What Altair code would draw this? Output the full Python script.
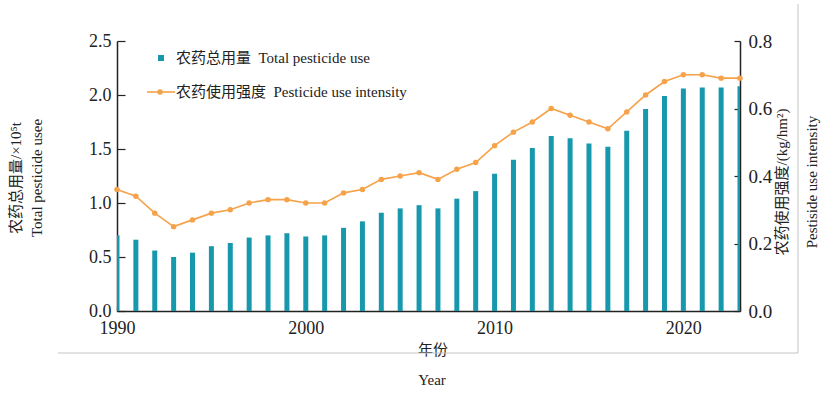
import altair as alt
import pandas as pd

# Pesticide use in China, 1990-2023
years = list(range(1990, 2024))
total_use = [0.70, 0.66, 0.56, 0.50, 0.54, 0.60, 0.63, 0.68, 0.70, 0.72,
             0.69, 0.70, 0.77, 0.83, 0.91, 0.95, 0.98, 0.95, 1.04, 1.11,
             1.27, 1.40, 1.51, 1.62, 1.60, 1.55, 1.52, 1.67, 1.87, 1.99,
             2.06, 2.07, 2.07, 2.08]  # x10^5 t
intensity = [0.36, 0.34, 0.29, 0.25, 0.27, 0.29, 0.30, 0.32, 0.33, 0.33,
             0.32, 0.32, 0.35, 0.36, 0.39, 0.40, 0.41, 0.39, 0.42, 0.44,
             0.49, 0.53, 0.56, 0.60, 0.58, 0.56, 0.54, 0.59, 0.64, 0.68,
             0.70, 0.70, 0.69, 0.69]  # kg/hm2

left_ticks = [0.0, 0.5, 1.0, 1.5, 2.0, 2.5]
right_ticks = [0.0, 0.2, 0.4, 0.6, 0.8]

BAR = "#1898ad"
ORANGE = "#f6a24a"
FRAME = "#c4c4c4"
SERIF = "Liberation Serif, 'Noto Sans CJK SC'"
GAP = "\u00a0\u00a0"

df = pd.DataFrame({"year": years, "total": total_use, "intensity": intensity})


def year_axis():
    return alt.X(
        "year:Q",
        scale=alt.Scale(domain=[1990, 2023], nice=False, zero=False, padding=0),
        axis=alt.Axis(
            values=years, format="d", title=None,
            labelExpr="datum.value % 10 === 0 ? datum.label : ''",
            labelOverlap=False, labelFlush=False,
            tickSize=alt.ExprRef("-5"), labelPadding=13,
            domainColor="#222", domainWidth=1.5, tickColor="#222", tickWidth=1.2,
            labelFont=SERIF, labelFontSize=18, labelColor="#222", grid=False,
        ),
    )


bars = alt.Chart(df).mark_bar(size=5, color=BAR, clip=True).encode(
    x=year_axis(),
    y=alt.Y(
        "total:Q",
        scale=alt.Scale(domain=[0, 2.5], nice=False),
        axis=alt.Axis(
            values=left_ticks, format=".1f", title=None, orient="left",
            tickSize=alt.ExprRef("-8"), labelPadding=14,
            domainColor="#222", domainWidth=1.5, tickColor="#222", tickWidth=1.2,
            labelFont=SERIF, labelFontSize=18, labelColor="#222", grid=False,
        ),
    ),
)

line = alt.Chart(df).mark_line(
    color=ORANGE, strokeWidth=1.6,
    point=alt.OverlayMarkDef(filled=True, size=30, color=ORANGE, opacity=1),
).encode(
    x=year_axis(),
    y=alt.Y(
        "intensity:Q",
        scale=alt.Scale(domain=[0, 0.8], nice=False),
        axis=alt.Axis(
            values=right_ticks, format=".1f", title=None, orient="right",
            tickSize=alt.ExprRef("-6"), labelPadding=14,
            domainColor="#222", domainWidth=1.5, tickColor="#222", tickWidth=1.2,
            labelFont=SERIF, labelFontSize=19, labelColor="#222", grid=False,
        ),
    ),
)


def label(text, x, y, angle=0, align="center", size=15):
    return alt.Chart(pd.DataFrame({"t": [text]})).mark_text(
        font=SERIF, fontSize=size, color="#222", angle=angle,
        align=align, baseline="middle",
    ).encode(x=alt.value(x), y=alt.value(y), text="t:N")


# Axis titles
titles = [
    label("农药总用量/×10⁵t", -101, 137, angle=270),
    label("Total pesticide usee", -80, 137, angle=270),
    label("农药使用强度/(kg/hm²)", 665, 141, angle=270),
    label("Pestiside use intensity", 695, 141, angle=270),
    label("年份", 316, 309),
    label("Year", 315, 339),
]

# Legend
one = pd.DataFrame({"k": [0]})
legend = [
    alt.Chart(one).mark_square(size=36, color=BAR, opacity=1).encode(
        x=alt.value(44), y=alt.value(17)),
    label("农药总用量" + GAP + "Total pesticide use", 59, 17, align="left"),
    alt.Chart(one).mark_rule(color=ORANGE, strokeWidth=1.6).encode(
        x=alt.value(30), x2=alt.value(58), y=alt.value(51)),
    alt.Chart(one).mark_circle(size=30, color=ORANGE, opacity=1).encode(
        x=alt.value(43), y=alt.value(51)),
    label("农药使用强度" + GAP + "Pesticide use intensity", 59, 51, align="left"),
]

# Light frame along the bottom and right edges of the figure
frame = [
    alt.Chart(one).mark_rule(color=FRAME, strokeWidth=1).encode(
        x=alt.value(-59), x2=alt.value(681), y=alt.value(312)),
    alt.Chart(one).mark_rule(color=FRAME, strokeWidth=1).encode(
        x=alt.value(681), y=alt.value(-37), y2=alt.value(312)),
]

chart = (
    alt.layer(bars, line, *titles, *legend, *frame)
    .resolve_scale(y="independent")
    .properties(
        width=623, height=270,
        padding={"left": 117, "top": 41, "right": 90, "bottom": 82},
        autosize=alt.AutoSizeParams(type="none"),
        background="white",
    )
    .configure_view(stroke=None)
    .configure_axis(labelOverlap=False)
)

chart.save("out.html", embed_options={"renderer": "svg", "actions": False})
